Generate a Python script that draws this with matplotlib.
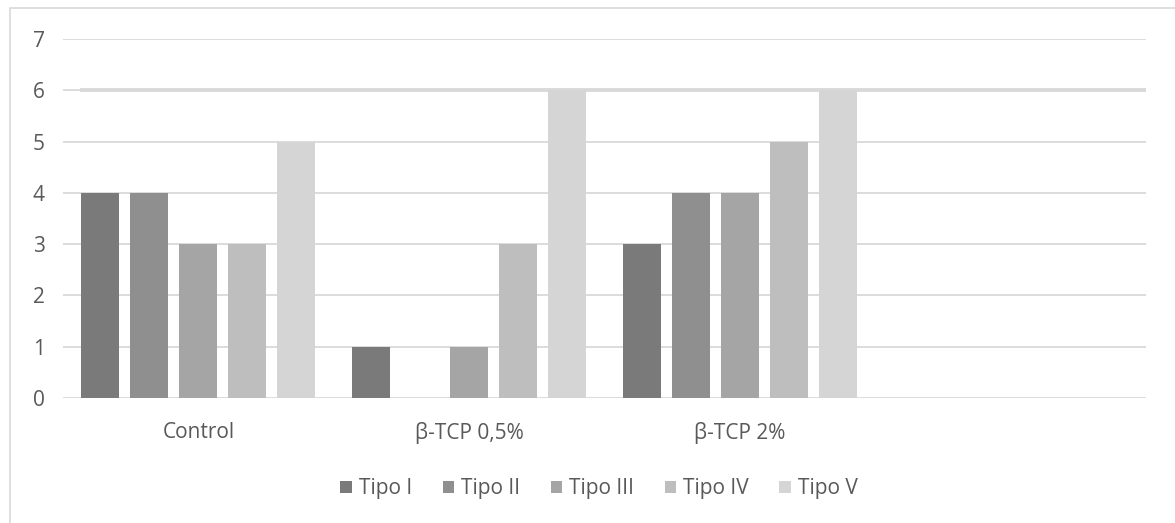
import matplotlib
matplotlib.use("Agg")
import matplotlib.pyplot as plt
import numpy as np
from matplotlib.patches import Rectangle

categories = ["Control", "β-TCP 0,5%", "β-TCP 2%", ""]
series_names = ["Tipo I", "Tipo II", "Tipo III", "Tipo IV", "Tipo V"]
tipo_i = [4, 1, 3, np.nan]
tipo_ii = [4, 0, 4, np.nan]
tipo_iii = [3, 1, 4, np.nan]
tipo_iv = [3, 3, 5, np.nan]
tipo_v = [5, 6, 6, np.nan]
yticks = [0, 1, 2, 3, 4, 5, 6, 7]

series = [tipo_i, tipo_ii, tipo_iii, tipo_iv, tipo_v]
colors = ["#7a7a7a", "#8f8f8f", "#a5a5a5", "#bebebe", "#d5d5d5"]

plt.rcParams['font.family'] = ['Open Sans', 'DejaVu Sans']

fig = plt.figure(figsize=(11.75, 5.23), dpi=100)
# chart border
fig.patches.append(Rectangle((10/1175, -0.1), 1.2, (523-8)/523 + 0.1, transform=fig.transFigure,
                             fill=False, edgecolor="#d9d9d9", lw=1.2))
ax = fig.add_axes([63/1175, 125/523, (1146-63)/1175, (398-39)/523])

x = np.arange(len(categories))
width = 0.14
step = 0.181
for i, (vals, name, c) in enumerate(zip(series, series_names, colors)):
    ax.bar(x + (i - 2) * step, vals, width, color=c, label=name, zorder=3)

ax.set_xlim(-0.5, len(categories) - 0.5)
ax.set_ylim(0, 7)
ax.set_yticks(yticks)
ax.set_xticks(x)
ax.set_xticklabels(categories)
ax.yaxis.grid(True, color="#d9d9d9", lw=1.3, zorder=0)
ax.axhline(6, xmin=0.018, color="#d9d9d9", lw=2.8, zorder=0)
for s in ax.spines.values():
    s.set_visible(False)
ax.tick_params(axis='both', length=0, colors="#595959", labelsize=15)
ax.tick_params(axis='y', pad=13)
ax.tick_params(axis='x', pad=17)

leg = ax.legend(loc="upper center", bbox_to_anchor=(0.495, -0.172), ncol=5, frameon=False,
                fontsize=15, handlelength=0.55, handleheight=0.55, handletextpad=0.35,
                columnspacing=1.45, labelcolor="#595959")

fig.savefig("out.png", dpi=100)
